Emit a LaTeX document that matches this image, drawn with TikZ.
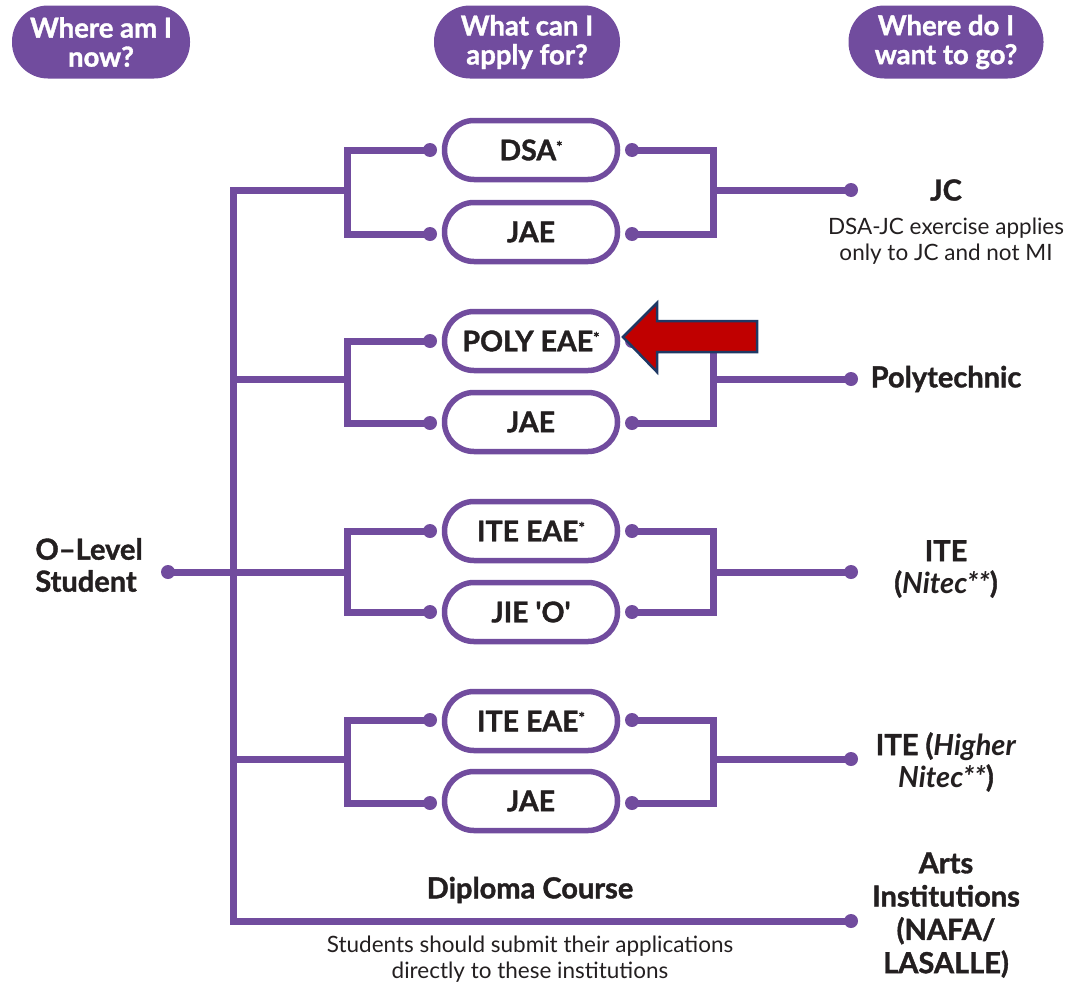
\documentclass[tikz,border=0pt]{standalone}
\usepackage{fontspec}
\setmainfont{Lato}[BoldFeatures={FakeBold=1.3}]
\definecolor{purp}{RGB}{113,76,158}
\definecolor{ink}{RGB}{35,31,32}
\definecolor{arrred}{RGB}{192,0,0}
\definecolor{arrbd}{RGB}{31,56,100}
\begin{document}
\begin{tikzpicture}[x=1pt,y=-1pt,
  conn/.style={draw=purp, line width=7pt, line join=miter},
  dotn/.style={circle, fill=purp, inner sep=0pt, minimum size=14pt},
  pill/.style={draw=purp, line width=5.5pt, rounded corners=29.5pt, minimum width=173pt, minimum height=59pt, inner sep=0pt, text=ink, font=\fontsize{28.5}{30}\selectfont\bfseries},
  hdr/.style={fill=purp, text=white, rounded corners=36pt, inner sep=0pt, align=center, font=\fontsize{27.5}{29}\selectfont\bfseries},
  lbl/.style={text=ink, align=center, inner sep=0pt, font=\fontsize{29}{32}\selectfont\bfseries},
  note/.style={text=ink, align=center, inner sep=0pt, font=\fontsize{22.5}{25.5}\selectfont},
]
\useasboundingbox (0,0) rectangle (1083,985);

% headers
\node[hdr, minimum width=178pt, minimum height=73pt] (h1) at (101,42) {Where am I\\now?};
\node[hdr, minimum width=186pt, minimum height=73pt] (h2) at (527,42) {What can I\\apply for?};
\node[hdr, minimum width=195pt, minimum height=73pt] (h3) at (946,42) {Where do I\\want to go?};

% pills
\node[pill] (p1a) at (531,150) {DSA\raisebox{0.55ex}{\fontsize{15}{15}\selectfont*}};
\node[pill] (p1b) at (531,232) {JAE};
\node[pill] (p2a) at (531,341) {POLY EAE\raisebox{0.55ex}{\fontsize{15}{15}\selectfont*}};
\node[pill] (p2b) at (531,422) {JAE};
\node[pill] (p3a) at (531,531) {ITE EAE\raisebox{0.55ex}{\fontsize{15}{15}\selectfont*}};
\node[pill] (p3b) at (531,612) {JIE \textquotesingle O\textquotesingle};
\node[pill] (p4a) at (531,721) {ITE EAE\raisebox{0.55ex}{\fontsize{15}{15}\selectfont*}};
\node[pill] (p4b) at (531,801) {JAE};

% dots
\foreach \n/\y in {1a/150,1b/234,2a/341,2b/423,3a/531,3b/612,4a/720,4b/803}{
  \node[dotn] (dl\n) at (430,\y) {};
  \node[dotn] (dr\n) at (632,\y) {};
}
\node[dotn] (de1) at (851,190) {};
\node[dotn] (de2) at (851,379) {};
\node[dotn] (de3) at (851,572) {};
\node[dotn] (de4) at (851,759) {};
\node[dotn] (de5) at (851,921) {};
\node[dotn] (olev) at (168,572) {};

% junctions
\foreach \i/\y in {1/190,2/379,3/572,4/759}{
  \coordinate (jl\i) at (347,\y);
  \coordinate (jr\i) at (713,\y);
  \coordinate (s\i) at (233,\y);
}
\coordinate (s5) at (233,921);

% connectors
\draw[conn] (jl1) -- (s1) -- (s5) -- (de5.center);
\foreach \i in {1,2,3,4}{
  \draw[conn] (dl\i a.center) -| (jl\i) |- (dl\i b.center);
  \draw[conn] (dr\i a.center) -| (jr\i) |- (dr\i b.center);
  \draw[conn] (jr\i) -- (de\i.center);
}
\foreach \i in {2,4}{ \draw[conn] (s\i) -- (jl\i); }
\draw[conn] (olev.center) -- (jl3);

% labels
\node[lbl, align=left] (olab) at (89,565) {O–Level\\Student};
\node[lbl] (t1) at (946,190) {JC};
\node[note] (n1) at (946,241) {DSA-JC exercise applies\\only to JC and not MI};
\node[lbl] (t2) at (946,379) {Polytechnic};
\node[lbl] (t3) at (946,569) {ITE\\(\textit{Nitec**})};
\node[lbl] (t4) at (946,762) {ITE (\textit{Higher}\\\textit{Nitec**})};
\node[lbl, font=\fontsize{29}{33.3}\selectfont\bfseries] (t5) at (946,915) {Arts\\Institutions\\(NAFA/\\LASALLE)};
\node[lbl] (dip) at (530,890) {Diploma Course};
\node[note] (n2) at (530,959) {Students should submit their applications\\directly to these institutions};

% red arrow
\draw[fill=arrred, draw=arrbd, line width=2.5pt, line join=miter]
  (623,337) -- (657,303) -- (657,321) -- (757,321) -- (757,352) -- (657,352) -- (657,372) -- cycle;
\end{tikzpicture}
\end{document}
